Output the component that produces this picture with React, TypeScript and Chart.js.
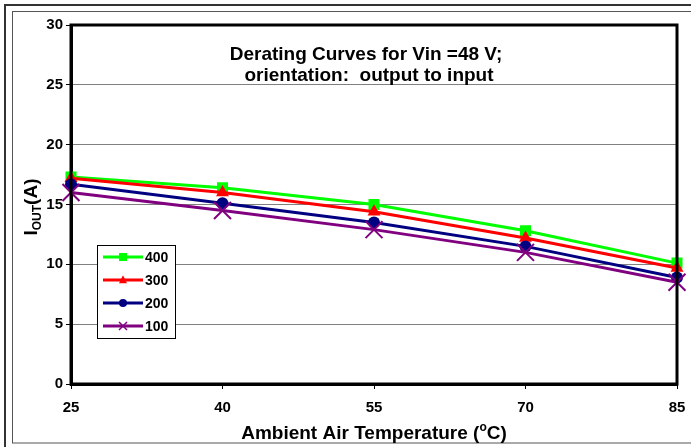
import React, { useEffect, useRef } from "react";
import { Chart, registerables } from "chart.js";

Chart.register(...registerables);

const temperatures = ["25", "40", "55", "70", "85"];
const series400 = [17.3, 16.4, 15.0, 12.8, 10.1];
const series300 = [17.2, 16.0, 14.4, 12.2, 9.7];
const series200 = [16.7, 15.1, 13.5, 11.5, 8.9];
const series100 = [16.0, 14.5, 12.9, 11.0, 8.5];
const seriesNames = ["400", "300", "200", "100"];
const titleLines = ["Derating Curves for Vin =48 V;", "orientation:  output to input"];

const FONT = "'Liberation Sans', Arial, sans-serif";
const COLORS = ["#00ff00", "#ff0000", "#000080", "#800080"];
const STYLES = ["rect", "triangle", "circle", "crossRot"];

function drawMarker(ctx: CanvasRenderingContext2D, style: string, x: number, y: number, s: number, color: string) {
  ctx.save();
  ctx.fillStyle = color;
  ctx.strokeStyle = color;
  ctx.beginPath();
  if (style === "rect") {
    ctx.fillRect(x - s / 2, y - s / 2, s, s);
  } else if (style === "triangle") {
    ctx.moveTo(x, y - s * 0.6);
    ctx.lineTo(x + s / 2, y + s * 0.4);
    ctx.lineTo(x - s / 2, y + s * 0.4);
    ctx.closePath();
    ctx.fill();
  } else if (style === "circle") {
    ctx.arc(x, y, s / 2, 0, Math.PI * 2);
    ctx.fill();
  } else {
    ctx.lineWidth = 1.5;
    ctx.moveTo(x - s / 2, y - s / 2);
    ctx.lineTo(x + s / 2, y + s / 2);
    ctx.moveTo(x + s / 2, y - s / 2);
    ctx.lineTo(x - s / 2, y + s / 2);
    ctx.stroke();
  }
  ctx.restore();
}

const framePlugin = {
  id: "frame",
  beforeDraw(chart: any) {
    const ctx = chart.ctx as CanvasRenderingContext2D;
    ctx.save();
    ctx.fillStyle = "#ffffff";
    ctx.fillRect(0, 0, chart.width, chart.height);
    ctx.strokeStyle = "#333333";
    ctx.lineWidth = 2;
    ctx.strokeRect(5, 5, chart.width + 20, chart.height + 20);
    ctx.strokeStyle = "#555555";
    ctx.lineWidth = 1;
    ctx.strokeRect(12.5, 11.5, chart.width + 20, 443 - 11.5);
    ctx.restore();
  },
  afterDatasetsDraw(chart: any) {
    const ctx = chart.ctx as CanvasRenderingContext2D;
    const a = chart.chartArea;
    ctx.save();
    ctx.strokeStyle = "#000000";
    ctx.lineWidth = 3;
    ctx.strokeRect(a.left, a.top, a.right - a.left, a.bottom - a.top);
    ctx.restore();
  },
  afterDraw(chart: any) {
    const ctx = chart.ctx as CanvasRenderingContext2D;
    ctx.save();
    ctx.fillStyle = "#000000";
    // chart title
    ctx.font = `bold 19px ${FONT}`;
    ctx.textAlign = "center";
    ctx.textBaseline = "alphabetic";
    ctx.fillText(titleLines[0], 366, 60);
    ctx.fillText(titleLines[1], 369, 81);

    // x axis title with superscript
    const big = `bold 19px ${FONT}`;
    const small = `bold 12px ${FONT}`;
    const p1 = "Ambient Air Temperature (";
    const p2 = "o";
    const p3 = "C)";
    ctx.textAlign = "left";
    ctx.font = big;
    const w1 = ctx.measureText(p1).width;
    const w3 = ctx.measureText(p3).width;
    ctx.font = small;
    const w2 = ctx.measureText(p2).width;
    let x = 374 - (w1 + w2 + w3) / 2;
    const by = 439;
    ctx.font = big;
    ctx.fillText(p1, x, by);
    x += w1;
    ctx.font = small;
    ctx.fillText(p2, x, by - 8);
    x += w2;
    ctx.font = big;
    ctx.fillText(p3, x, by);

    // y axis title with subscript
    ctx.translate(37, 207);
    ctx.rotate(-Math.PI / 2);
    const q1 = "I";
    const q2 = "OUT";
    const q3 = "(A)";
    ctx.font = big;
    const v1 = ctx.measureText(q1).width;
    const v3 = ctx.measureText(q3).width;
    ctx.font = small;
    const v2 = ctx.measureText(q2).width;
    let t = -(v1 + v2 + v3) / 2;
    ctx.font = big;
    ctx.fillText(q1, t, 0);
    t += v1;
    ctx.font = small;
    ctx.fillText(q2, t, 4);
    t += v2;
    ctx.font = big;
    ctx.fillText(q3, t, 0);
    ctx.restore();

    // legend
    ctx.save();
    ctx.fillStyle = "#ffffff";
    ctx.fillRect(97, 245, 78, 93);
    ctx.strokeStyle = "#000000";
    ctx.lineWidth = 1;
    ctx.strokeRect(97.5, 245.5, 78, 93);
    const rows = [257, 280, 303, 326];
    ctx.font = `bold 14px ${FONT}`;
    ctx.textBaseline = "middle";
    ctx.textAlign = "left";
    rows.forEach((ry, i) => {
      ctx.strokeStyle = COLORS[i];
      ctx.lineWidth = 3;
      ctx.beginPath();
      ctx.moveTo(103, ry);
      ctx.lineTo(143, ry);
      ctx.stroke();
      drawMarker(ctx, STYLES[i], 123, ry, 8, COLORS[i]);
      ctx.fillStyle = "#000000";
      ctx.fillText(seriesNames[i], 145, ry + 1);
    });
    ctx.restore();
  },
};

export default function App() {
  const ref = useRef<HTMLCanvasElement | null>(null);
  useEffect(() => {
    if (!ref.current) return;
    const values = [series400, series300, series200, series100];
    const radii = [7.8, 7.5, 6, 12];
    const chart = new Chart(ref.current, {
      type: "line",
      data: {
        labels: temperatures,
        datasets: values.map((v, i) => ({
          label: seriesNames[i],
          data: v,
          borderColor: COLORS[i],
          backgroundColor: COLORS[i],
          borderWidth: 3,
          pointStyle: STYLES[i] as any,
          pointRadius: radii[i],
          pointBorderWidth: i === 3 ? 2 : 0,
          pointBorderColor: COLORS[i],
          pointBackgroundColor: COLORS[i],
          tension: 0,
          order: 3 - i,
        })),
      },
      options: {
        responsive: false,
        animation: false,
        devicePixelRatio: 1,
        layout: { padding: { left: 0, right: 12, top: 25, bottom: 0 } },
        plugins: {
          legend: { display: false },
          title: { display: false },
          tooltip: { enabled: false },
        },
        scales: {
          x: {
            type: "category",
            offset: false,
            grid: {
              drawOnChartArea: false,
              drawTicks: true,
              tickLength: 5,
              tickColor: "#000000",
              offset: false,
            },
            border: { color: "#000000", width: 3 },
            ticks: {
              color: "#000000",
              font: { family: FONT, size: 15, weight: "bold" },
              padding: 10,
              maxRotation: 0,
              autoSkip: false,
            },
            afterFit: (scale: any) => {
              scale.height = 63;
              scale.paddingRight = 0;
              scale.paddingLeft = 0;
            },
          },
          y: {
            min: 0,
            max: 30,
            ticks: {
              stepSize: 5,
              color: "#000000",
              font: { family: FONT, size: 15, weight: "bold" },
              padding: 3,
            },
            grid: {
              color: "#808080",
              lineWidth: 1,
              tickLength: 5,
              tickColor: "#000000",
            },
            border: { color: "#000000", width: 3 },
            afterFit: (scale: any) => {
              scale.width = 71;
            },
          },
        },
      },
      plugins: [framePlugin],
    });
    return () => chart.destroy();
  }, []);
  return (
    <div style={{ position: "fixed", left: 0, top: 0, width: 691, height: 447, background: "#fff" }}>
      <canvas ref={ref} width={691} height={447} style={{ display: "block" }} />
    </div>
  );
}
